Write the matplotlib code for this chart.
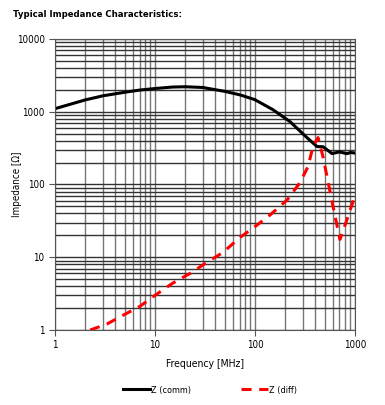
import matplotlib
matplotlib.use("Agg")
import matplotlib.pyplot as plt
from matplotlib.ticker import FixedLocator, LogLocator, NullFormatter

plt.rcParams['font.family'] = ['DejaVu Sans']
plt.rcParams['font.stretch'] = 'condensed'

# Z (comm) curve
f_comm = [1, 2, 3, 5, 7, 10, 15, 20, 30, 50, 71, 100, 151, 224, 331, 417, 479, 589, 700, 832, 900, 1000]
z_comm = [1100, 1450, 1650, 1850, 1980, 2080, 2180, 2200, 2150, 1900, 1700, 1460, 1065, 730, 440, 332, 330, 266, 280, 265, 275, 270]

# Z (diff) curve
f_diff = [2.24, 3.3, 4.8, 7.1, 10, 15, 22.4, 33, 48, 71, 95, 141, 209, 282, 339, 380, 427, 479, 537, 631, 708, 832, 1000]
z_diff = [1.0, 1.21, 1.6, 2.13, 3.0, 4.4, 6.0, 8.5, 11.7, 18.8, 25, 38, 61, 106, 176, 331, 440, 240, 110, 37, 17.6, 33, 70]

fig = plt.figure(figsize=(3.85, 4.05), dpi=100)
ax = fig.add_axes([0.143, 0.185, 0.779, 0.719])

ax.plot(f_comm, z_comm, color='black', lw=2.2, label='Z (comm)')
ax.plot(f_diff, z_diff, color='red', lw=2.2, ls=(0, (3.3, 2.5)), label='Z (diff)')

ax.set_xscale('log')
ax.set_yscale('log')
ax.set_xlim(1, 1000)
ax.set_ylim(1, 10000)

ax.xaxis.set_major_locator(FixedLocator([1, 10, 100, 1000]))
ax.yaxis.set_major_locator(FixedLocator([1, 10, 100, 1000, 10000]))
ax.set_xticklabels(['1', '10', '100', '1000'])
ax.set_yticklabels(['1', '10', '100', '1000', '10000'])
ax.xaxis.set_minor_locator(LogLocator(subs=range(2, 10)))
ax.yaxis.set_minor_locator(LogLocator(subs=range(2, 10)))
ax.xaxis.set_minor_formatter(NullFormatter())
ax.yaxis.set_minor_formatter(NullFormatter())

ax.grid(which='both', axis='y', color='#333333', lw=1.0)
ax.grid(which='both', axis='x', color='#777777', lw=1.0)
ax.tick_params(which='minor', length=0)
ax.tick_params(which='major', length=4, labelsize=7, color='#555555')
for s in ax.spines.values():
    s.set_color('#555555')

ax.set_xlabel('Frequency [MHz]', fontsize=7.5, labelpad=6)
ax.set_ylabel('Impedance [Ω]', fontsize=7)
ax.yaxis.set_label_coords(-0.11, 0.5)

fig.text(0.034, 0.963, 'Typical Impedance Characteristics:', fontsize=6.8, fontweight='bold', va='center')

fig.legend(loc='center', bbox_to_anchor=(0.545, 0.037), ncol=2, frameon=False,
           fontsize=6.5, handlelength=3, handletextpad=0.15, columnspacing=5.5)

fig.savefig('out.png', dpi=100)
